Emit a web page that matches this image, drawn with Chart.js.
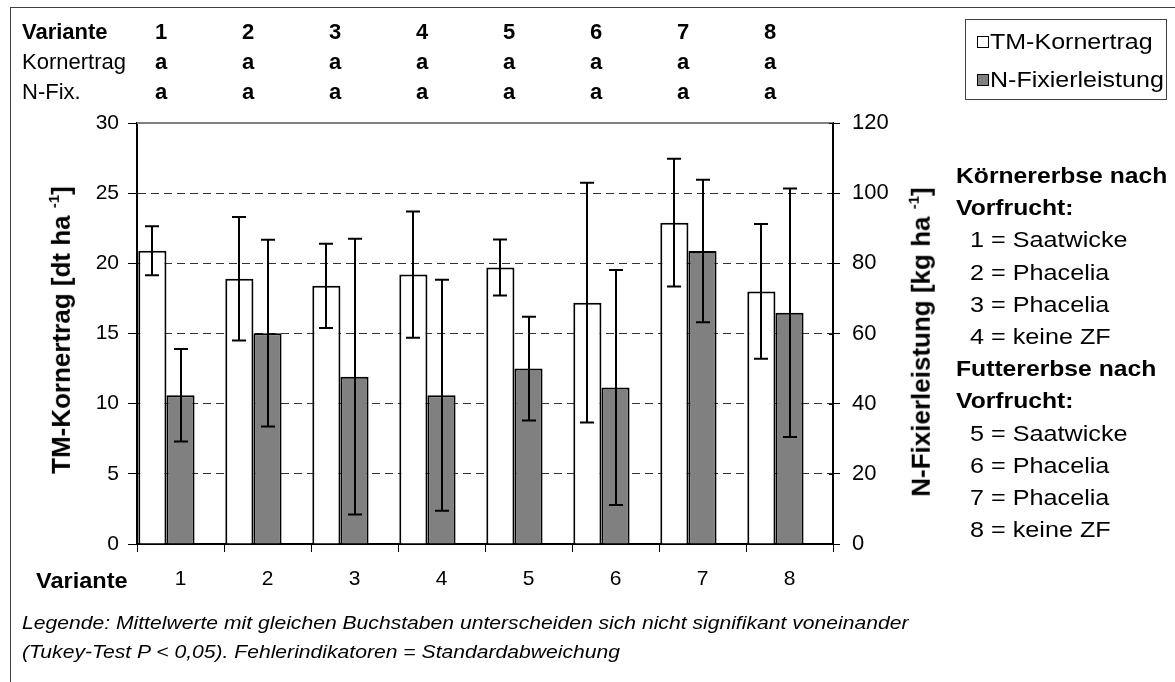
<!DOCTYPE html>
<html lang="de">
<head>
<meta charset="UTF-8">
<script src="https://cdn.jsdelivr.net/npm/chart.js"></script>
<title>TM-Kornertrag und N-Fixierleistung</title>
<style>
  body {
    margin: 0;
    padding: 0;
    width: 1175px;
    height: 682px;
    overflow: hidden;
    background: #fff;
    position: relative;
    font-family: "Liberation Sans", Arial, sans-serif;
    color: #000;
  }
  .frame {
    position: absolute;
    left: 10px;
    top: 7px;
    width: 1200px;
    height: 700px;
    border-left: 1px solid #404040;
    border-top: 1px solid #404040;
  }
  #chart { position: absolute; left: 0; top: 0; }
  .t { position: absolute; white-space: nowrap; line-height: 1; transform-origin: left center; }
  .b { font-weight: bold; }
  .head { font-size: 22px; }
  .legend {
    position: absolute;
    left: 965px;
    top: 19px;
    width: 202px;
    height: 81px;
    border: 1px solid #404040;
    box-sizing: border-box;
  }
  .sw {
    position: absolute;
    width: 10px;
    height: 10px;
    border: 1px solid #000;
  }
  .notes { font-size: 22px; }
  .axtitle { font-size: 26px; font-weight: bold; }
  .axtitle sup { font-size: 15px; vertical-align: 11px; }
  .foot { font-size: 19px; font-style: italic; }
</style>
</head>
<body>
<div class="frame"></div>
<canvas id="chart" width="1175" height="682"></canvas>
<div id="overlay"></div>

<script>
// Daten
const varianten = ['1', '2', '3', '4', '5', '6', '7', '8'];
const kornertrag = [20.9, 18.9, 18.4, 19.2, 19.7, 17.2, 22.9, 18.0];      // dt/ha
const kornertragSd = [1.75, 4.4, 3.0, 4.5, 2.0, 8.55, 4.55, 4.8];
const nFix = [42.4, 60.1, 47.7, 42.4, 50.0, 44.6, 83.5, 65.9];             // kg/ha
const nFixSd = [13.2, 26.6, 39.3, 32.9, 14.8, 33.5, 20.3, 35.4];
const sigKorn = ['a', 'a', 'a', 'a', 'a', 'a', 'a', 'a'];
const sigNFix = ['a', 'a', 'a', 'a', 'a', 'a', 'a', 'a'];
const vorfruchtKoerner = ['1 = Saatwicke', '2 = Phacelia', '3 = Phacelia', '4 = keine ZF'];
const vorfruchtFutter = ['5 = Saatwicke', '6 = Phacelia', '7 = Phacelia', '8 = keine ZF'];

const FONT = '"Liberation Sans", Arial, sans-serif';
Chart.defaults.font.family = FONT;
Chart.defaults.color = '#000';

// Fehlerbalken + obere Rahmenlinie
const extras = {
  id: 'extras',
  beforeDatasetsDraw(chart) {
    const {ctx, chartArea} = chart;
    ctx.save();
    ctx.strokeStyle = '#808080';
    ctx.lineWidth = 2;
    ctx.beginPath();
    ctx.moveTo(chartArea.left, chartArea.top);
    ctx.lineTo(chartArea.right, chartArea.top);
    ctx.stroke();
    // kurze Striche der rechten Achse nach innen
    const r = chart.scales.y1;
    ctx.strokeStyle = '#000';
    ctx.lineWidth = 1;
    r.ticks.forEach(t => {
      const y = Math.round(r.getPixelForValue(t.value)) + 0.5;
      ctx.beginPath();
      ctx.moveTo(chartArea.right - 4, y);
      ctx.lineTo(chartArea.right, y);
      ctx.stroke();
    });
    ctx.restore();
  },
  afterDatasetsDraw(chart) {
    const ctx = chart.ctx;
    const sets = [[0, kornertrag, kornertragSd], [1, nFix, nFixSd]];
    ctx.save();
    ctx.strokeStyle = '#000';
    ctx.lineWidth = 2;
    sets.forEach(([di, vals, sd]) => {
      const meta = chart.getDatasetMeta(di);
      const scale = meta.vScale;
      meta.data.forEach((bar, i) => {
        const x = Math.round(bar.x);
        const y1 = scale.getPixelForValue(vals[i] + sd[i]);
        const y2 = scale.getPixelForValue(vals[i] - sd[i]);
        ctx.beginPath();
        ctx.moveTo(x, y1); ctx.lineTo(x, y2);
        ctx.moveTo(x - 7, y1); ctx.lineTo(x + 7, y1);
        ctx.moveTo(x - 7, y2); ctx.lineTo(x + 7, y2);
        ctx.stroke();
      });
    });
    ctx.restore();
  }
};

const chart = new Chart(document.getElementById('chart'), {
  type: 'bar',
  data: {
    labels: varianten,
    datasets: [
      { label: 'TM-Kornertrag', data: kornertrag, yAxisID: 'y',
        backgroundColor: '#ffffff', borderColor: '#000', borderWidth: 2 },
      { label: 'N-Fixierleistung', data: nFix, yAxisID: 'y1',
        backgroundColor: '#808080', borderColor: '#000', borderWidth: 2 },
      // leerer dritter Platz, damit die Balken links in der Kategorie stehen
      { label: '', data: varianten.map(() => null), yAxisID: 'y' }
    ]
  },
  options: {
    responsive: false,
    animation: false,
    devicePixelRatio: 1,
    datasets: { bar: { categoryPercentage: 0.97, barPercentage: 1 } },
    layout: { padding: { top: 123, right: 282, bottom: 88, left: 0 } },
    plugins: { legend: { display: false }, tooltip: { enabled: false } },
    scales: {
      x: {
        grid: { drawOnChartArea: false, tickLength: 8, color: '#000', offset: true },
        border: { color: '#000', width: 2 },
        ticks: { font: { size: 21 }, padding: 15 },
        afterFit: s => { s.height = 50; }
      },
      y: {
        position: 'left',
        min: 0, max: 30,
        ticks: { stepSize: 5, font: { size: 21 }, padding: 9 },
        grid: {
          color: c => (c.tick && (c.tick.value === 0 || c.tick.value === 30)) ? 'rgba(0,0,0,0)' : '#333',
          tickColor: '#000', tickLength: 9, tickBorderDash: []
        },
        border: { color: '#000', width: 2, dash: [8, 5] },
        afterFit: s => { s.width = 137; }
      },
      y1: {
        position: 'right',
        min: 0, max: 120,
        ticks: { stepSize: 20, font: { size: 22 }, padding: 12 },
        grid: { drawOnChartArea: false, tickColor: '#000', tickLength: 7 },
        border: { color: '#000', width: 2 },
        afterFit: s => { s.width = 60; }
      }
    }
  },
  plugins: [extras]
});

// Texte um das Diagramm
const ov = document.getElementById('overlay');
function txt(str, x, y, cls, html) {
  const d = document.createElement('div');
  d.className = 't ' + (cls || '');
  if (html) d.innerHTML = str; else d.textContent = str;
  d.style.left = x + 'px';
  d.style.top = y + 'px';
  ov.appendChild(d);
  return d;
}
// horizontal auf Zielbreite strecken, gibt den Faktor zurück
function stretch(el, w) {
  const k = w / el.offsetWidth;
  el.style.transform = 'scaleX(' + k + ')';
  return k;
}

// Kopfzeilen
const xs = chart.scales.x;
const rows = [['Variante', varianten, 'b'], ['Kornertrag', sigKorn, ''], ['N-Fix.', sigNFix, '']];
rows.forEach((row, r) => {
  const y = 21 + r * 30;
  txt(row[0], 22, y, 'head ' + row[2]);
  row[1].forEach((v, i) => {
    const d = txt(v, 0, y, 'head b');
    d.style.left = (xs.getPixelForValue(i) - 19.5 - d.offsetWidth / 2) + 'px';
  });
});

// Legende
const lg = document.createElement('div');
lg.className = 'legend';
ov.appendChild(lg);
const sw1 = document.createElement('div');
sw1.className = 'sw'; sw1.style.left = '977px'; sw1.style.top = '36px'; sw1.style.background = '#fff';
const sw2 = document.createElement('div');
sw2.className = 'sw'; sw2.style.left = '977px'; sw2.style.top = '74px'; sw2.style.background = '#808080';
ov.appendChild(sw1); ov.appendChild(sw2);
const l1 = txt(chart.data.datasets[0].label, 990, 31, 'head');
const l2 = txt(chart.data.datasets[1].label, 990, 69, 'head');
const kl = stretch(l2, 174);
l1.style.transform = 'scaleX(' + kl + ')';

// Achsentitel
const t1 = txt('TM-Kornertrag [dt ha <sup>-1</sup>]', 0, 0, 'axtitle', true);
t1.style.transformOrigin = 'center center';
t1.style.left = (60 - t1.offsetWidth / 2) + 'px';
t1.style.top = (330 - t1.offsetHeight / 2) + 'px';
t1.style.transform = 'rotate(-90deg)';
const t2 = txt('N-Fixierleistung [kg ha <sup>-1</sup>]', 0, 0, 'axtitle', true);
t2.style.transformOrigin = 'center center';
t2.style.left = (920 - t2.offsetWidth / 2) + 'px';
t2.style.top = (342 - t2.offsetHeight / 2) + 'px';
t2.style.transform = 'rotate(-90deg)';

// Erläuterungen rechts
const notes = [['Körnererbse nach', 'b'], ['Vorfrucht:', 'b']]
  .concat(vorfruchtKoerner.map(s => [s, '']))
  .concat([['Futtererbse nach', 'b'], ['Vorfrucht:', 'b']])
  .concat(vorfruchtFutter.map(s => [s, '']));
const noteEls = notes.map((n, i) => txt(n[0], n[1] ? 956 : 970, 165 + i * 32.2, 'notes ' + n[1]));
const kb = stretch(noteEls[0], 211);
const kn = stretch(noteEls[2], 158);
noteEls.forEach((el, i) => {
  el.style.transform = 'scaleX(' + (notes[i][1] ? kb : kn) + ')';
});

// x-Achsenbeschriftung und Fußnote
const xv = txt('Variante', 36, 570, 'head b');
stretch(xv, 92);
const f1 = txt('Legende: Mittelwerte mit gleichen Buchstaben unterscheiden sich nicht signifikant voneinander', 22, 613, 'foot');
const f2 = txt('(Tukey-Test P < 0,05). Fehlerindikatoren = Standardabweichung', 22, 642, 'foot');
const kf = stretch(f1, 886);
f2.style.transform = 'scaleX(' + kf + ')';
</script>
</body>
</html>
